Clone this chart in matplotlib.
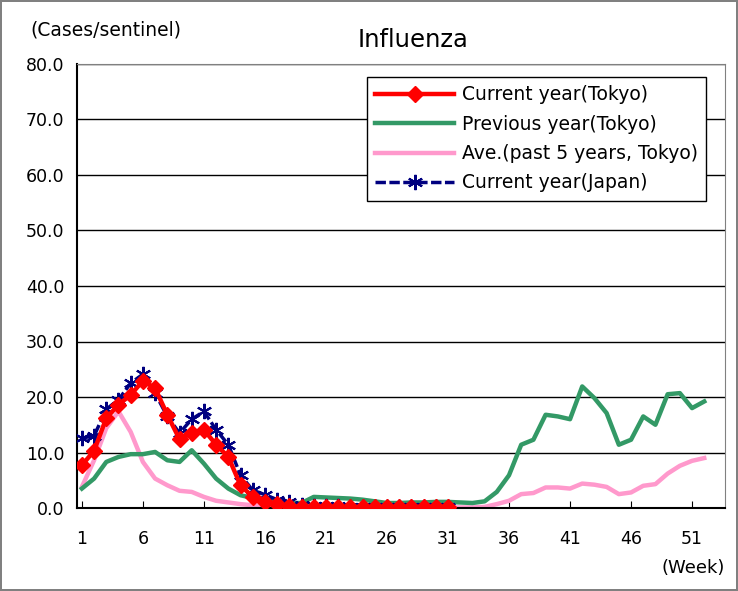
import matplotlib
matplotlib.use("Agg")
from matplotlib import pyplot as plt

# data
weeks_all = list(range(1, 53))
weeks_cur = list(range(1, 32))

tokyo_cur = [7.7, 10.3, 16.2, 18.6, 20.4, 22.9, 21.6, 16.8, 12.4, 13.5,
             14.1, 11.4, 9.2, 4.1, 2.0, 1.1, 0.7, 0.3, 0.2, 0.1,
             0.1, 0.1, 0.1, 0.1, 0.1, 0.1, 0.2, 0.2, 0.2, 0.2,
             0.2]
japan_cur = [12.6, 13.0, 17.8, 19.5, 22.5, 24.1, 20.7, 16.5, 13.5, 16.0,
             17.4, 14.1, 11.4, 5.9, 3.2, 2.4, 1.5, 1.0, 0.6, 0.4,
             0.3, 0.3, 0.2, 0.2, 0.2, 0.2, 0.2, 0.2, 0.2, 0.2,
             0.2]
tokyo_prev = [3.5, 5.3, 8.3, 9.2, 9.7, 9.7, 10.1, 8.6, 8.3, 10.4,
              8.0, 5.3, 3.5, 2.3, 1.8, 1.4, 1.1, 0.9, 0.9, 2.0,
              1.9, 1.8, 1.7, 1.5, 1.2, 0.9, 0.9, 1.0, 1.0, 1.1,
              1.1, 1.0, 0.9, 1.2, 2.9, 5.9, 11.4, 12.3, 16.8, 16.5,
              16.0, 21.9, 19.8, 17.1, 11.4, 12.3, 16.5, 15.0, 20.5, 20.7,
              18.0, 19.2]
tokyo_avg5 = [3.8, 8.6, 14.4, 17.4, 13.7, 8.3, 5.3, 4.1, 3.1, 2.9,
              2.0, 1.3, 1.0, 0.7, 0.5, 0.4, 0.3, 0.2, 0.2, 0.1,
              0.1, 0.1, 0.1, 0.1, 0.1, 0.1, 0.1, 0.1, 0.1, 0.1,
              0.1, 0.1, 0.1, 0.2, 0.7, 1.3, 2.5, 2.7, 3.7, 3.7,
              3.5, 4.4, 4.2, 3.8, 2.5, 2.8, 4.0, 4.3, 6.2, 7.6,
              8.5, 9.0]

xticks = [1, 6, 11, 16, 21, 26, 31, 36, 41, 46, 51]
yticks = [0, 10, 20, 30, 40, 50, 60, 70, 80]

plt.rcParams['font.family'] = ['DejaVu Sans']

fig = plt.figure(figsize=(7.38, 5.91), dpi=100)
fig.patch.set_edgecolor("#808080")
fig.patch.set_linewidth(1.5)
ax = fig.add_axes([77/738, 1-508/591, (725-77)/738, (508-64)/591])

l_avg, = ax.plot(weeks_all, tokyo_avg5, color="#FF99CC", lw=3.2, zorder=2,
                 solid_joinstyle="round", label="Ave.(past 5 years, Tokyo)")
l_prev, = ax.plot(weeks_all, tokyo_prev, color="#339966", lw=3.2, zorder=3,
                  solid_joinstyle="round", label="Previous year(Tokyo)")
l_jp, = ax.plot(weeks_cur, japan_cur, color="#000080", lw=2.5, ls=(0, (3, 1)),
                marker=(6, 2, 0), ms=11, mew=1.5, zorder=4,
                label="Current year(Japan)")
l_tk, = ax.plot(weeks_cur, tokyo_cur, color="#FF0000", lw=3.2, marker="D",
                ms=8, zorder=5, label="Current year(Tokyo)")

ax.set_xlim(0.6, 53.7)
ax.set_ylim(0, 80)
ax.set_xticks(xticks)
ax.set_xticklabels([str(w) for w in xticks])
ax.set_yticks(yticks)
ax.set_yticklabels(["%.1f" % v for v in yticks])
ax.tick_params(axis="x", direction="in", length=5, pad=16, labelsize=12.5)
ax.tick_params(axis="y", length=0, pad=9, labelsize=12.5)
ax.grid(axis="y", color="black", lw=1)
ax.set_axisbelow(True)
for s in ["top", "right"]:
    ax.spines[s].set_color("#808080")
for s in ["left", "bottom"]:
    ax.spines[s].set_color("black")
    ax.spines[s].set_linewidth(1.5)

fig.text(413/738, 1-40/591, "Influenza", ha="center", va="center", fontsize=17.5)
fig.text(30/738, 1-30/591, "(Cases/sentinel)", ha="left", va="center", fontsize=13.5)
fig.text(725/738, 1-568/591, "(Week)", ha="right", va="center", fontsize=13)

# legend box
leg = ax.legend(handles=[l_tk, l_prev, l_avg, l_jp], loc="upper right",
                bbox_to_anchor=(706/738, 1-77/591), bbox_transform=fig.transFigure,
                borderaxespad=0, fancybox=False, framealpha=1, fontsize=13.5,
                handlelength=4.2, labelspacing=0.55, handletextpad=0.4,
                borderpad=0.45)
leg.get_frame().set_edgecolor("black")
leg.get_frame().set_linewidth(1)

plt.savefig("out.png", dpi=100)
